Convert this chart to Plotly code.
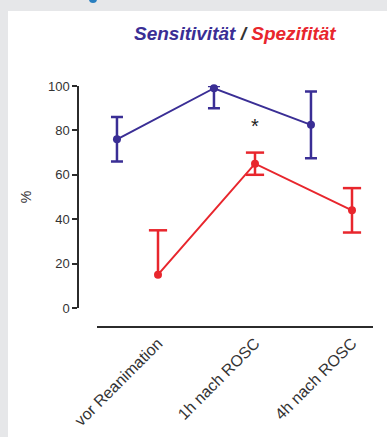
import plotly.graph_objects as go

categories = ["vor Reanimation", "1h nach ROSC", "4h nach ROSC"]
sens_values = [76, 99, 82.5]
sens_err_plus = [10, 1, 15]
sens_err_minus = [10, 9, 15]
spez_values = [15, 65, 44]
spez_err_plus = [20, 5, 10]
spez_err_minus = [0, 5, 10]
y_ticks = [0, 20, 40, 60, 80, 100]
star_label = "*"
star_value = 81

W, H = 387, 437
BLUE = "#3a2e95"
RED = "#e8262d"
AX = "#2b2b2b"

idx = list(range(len(categories)))
blue_off = -0.423
sens_x = [i + blue_off for i in idx]
spez_x = idx

def px_x(p):
    return p / W

def px_y(p):
    return (H - p) / H

fig = go.Figure()

fig.add_trace(go.Scatter(
    x=sens_x, y=sens_values, mode="lines+markers",
    line=dict(color=BLUE, width=2), marker=dict(color=BLUE, size=8),
    error_y=dict(type="data", symmetric=False, array=sens_err_plus, arrayminus=sens_err_minus,
                 color=BLUE, thickness=2.5, width=6),
    cliponaxis=False, showlegend=False))

fig.add_trace(go.Scatter(
    x=spez_x, y=spez_values, mode="lines+markers",
    line=dict(color=RED, width=2), marker=dict(color=RED, size=8),
    error_y=dict(type="data", symmetric=False, array=spez_err_plus, arrayminus=spez_err_minus,
                 color=RED, thickness=2.5, width=0),
    cliponaxis=False, showlegend=False))

cap_x, cap_y = [], []
for x, v, p, m in zip(spez_x, spez_values, spez_err_plus, spez_err_minus):
    if p > 0:
        cap_x.append(x); cap_y.append(v + p)
    if m > 0:
        cap_x.append(x); cap_y.append(v - m)
fig.add_trace(go.Scatter(
    x=cap_x, y=cap_y, mode="markers",
    marker=dict(symbol="line-ew", size=13, line=dict(color=RED, width=2.5)),
    cliponaxis=False, showlegend=False, hoverinfo="skip"))

fig.add_trace(go.Scatter(
    x=[1], y=[star_value], mode="text", text=[star_label],
    textfont=dict(size=20, color="#222", family="Liberation Sans"),
    cliponaxis=False, showlegend=False))

x0_px, x1_px = 97, 373
red0_px, step_px = 158, 97
xr = [(x0_px - red0_px) / step_px, (x1_px - red0_px) / step_px]

fig.update_layout(
    width=W, height=H,
    margin=dict(l=0, r=0, t=0, b=0, autoexpand=False),
    paper_bgcolor="#e6e7e9",
    plot_bgcolor="rgba(0,0,0,0)",
    font=dict(family="Liberation Sans, Arial, sans-serif", color="#333"),
    xaxis=dict(
        domain=[px_x(x0_px), px_x(x1_px)], range=xr,
        anchor="free", position=px_y(327),
        showline=True, linecolor=AX, linewidth=1.5,
        showgrid=False, zeroline=False,
        tickvals=idx, ticktext=categories, tickangle=-45,
        ticks="", tickfont=dict(size=16, color="#333"),
        automargin=False,
    ),
    yaxis=dict(
        domain=[px_y(308), px_y(86)], range=[0, 100],
        anchor="free", position=px_x(78),
        showline=True, linecolor=AX, linewidth=1.5,
        showgrid=False, zeroline=False,
        tickvals=y_ticks, ticks="outside", ticklen=5, tickwidth=1.5, tickcolor=AX,
        tickfont=dict(size=13, color="#333"),
        title=dict(text="%", font=dict(size=14, color="#333"), standoff=12),
        automargin=False,
    ),
    shapes=[
        dict(type="rect", xref="paper", yref="paper", x0=px_x(8), x1=1.0, y0=0, y1=px_y(11),
             fillcolor="white", line=dict(width=0), layer="below"),
        dict(type="circle", xref="paper", yref="paper", x0=px_x(89), x1=px_x(97), y0=px_y(3), y1=px_y(-5),
             fillcolor="#2a7fc0", line=dict(width=0), layer="above"),
    ],
    annotations=[
        dict(x=px_x(235), y=px_y(34), xref="paper", yref="paper", showarrow=False,
             xanchor="center", yanchor="middle",
             text=("<b><i><span style='color:%s'>Sensitivität</span>"
                   "<span style='color:#333'> / </span>"
                   "<span style='color:%s'>Spezifität</span></i></b>") % (BLUE, RED),
             font=dict(size=19, family="Liberation Sans, Arial, sans-serif")),
    ],
)

fig.write_html("out.html", config={"displayModeBar": False},
               post_script="document.body.style.margin='0';document.body.style.overflow='hidden';")
